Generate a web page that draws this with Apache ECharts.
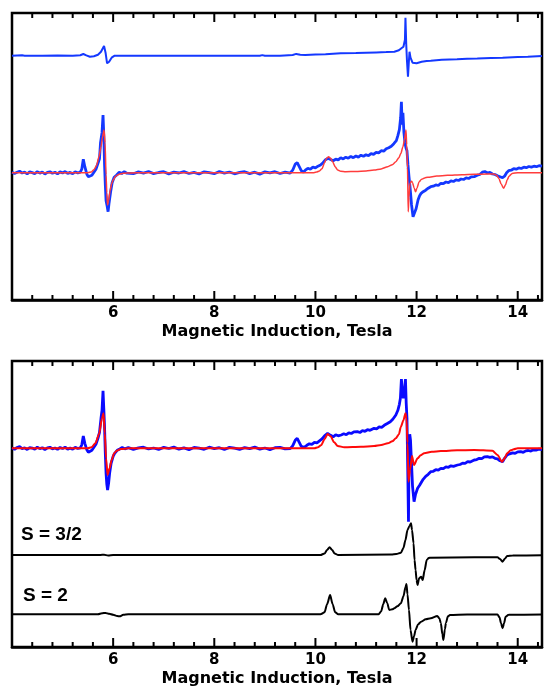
<!DOCTYPE html>
<html>
<head>
<meta charset="utf-8">
<script src="https://cdn.jsdelivr.net/npm/echarts@6/dist/echarts.min.js"></script>
<style>
  html, body { margin: 0; padding: 0; background: #fff; }
  #chart { width: 545px; height: 691px; }
</style>
</head>
<body>
<div id="chart"></div>
<script>
// field in Tesla, intensity in arbitrary units (baseline = 0, up = positive)
const xTicks = [6, 8, 10, 12, 14];
const majorTickValues = [6, 8, 10, 12, 14];
const minorTickValues = [4.4, 4.8, 5.2, 5.6, 6.4, 6.8, 7.2, 7.6, 8.4, 8.8, 9.2, 9.6,
  10.4, 10.8, 11.2, 11.6, 12.4, 12.8, 13.2, 13.6, 14.4];

// top panel, upper blue trace
const topRaw = [
  [4.00, 0], [4.20, 0.4], [4.25, 0], [4.60, 0], [4.90, 0.2], [5.20, 0], [5.35, 0.5], [5.41, 1.7], [5.47, 0.3],
  [5.54, -1], [5.62, -0.5], [5.70, 1], [5.76, 4], [5.82, 9.7], [5.85, 3], [5.88, -7.6], [5.92, -6],
  [5.97, -2], [6.03, 0], [7.00, 0], [8.00, 0], [8.90, 0], [8.95, 0.6], [9.00, 0], [9.30, 0],
  [9.55, 0.7], [9.62, 1.8], [9.70, 1], [9.80, 0.8], [10.00, 1.2], [10.20, 1.5], [10.50, 2.4],
  [10.80, 2.6], [11.00, 3], [11.20, 3.3], [11.40, 3.6], [11.56, 4], [11.65, 5.5], [11.70, 7.5],
  [11.74, 9], [11.77, 16], [11.78, 38], [11.795, 12], [11.81, -5], [11.83, -21], [11.845, -8],
  [11.86, 4], [11.88, -2], [11.92, -7], [11.95, -8.6], [12.00, -7.5], [12.10, -6], [12.20, -5.3],
  [12.28, -5], [12.50, -4], [12.80, -3.6], [13.00, -3], [13.20, -2.8], [13.47, -2.3], [13.70, -2],
  [14.00, -1.2], [14.20, -1], [14.48, -0.3]
];

// top panel, measured spectrum (blue)
const topMeasured = [
  [4.00, 0.5], [4.05, -0.8], [4.10, 0.4], [4.15, 1.5], [4.20, -0.3], [4.25, 0.6], [4.30, -1.1], [4.35, 0.9],
  [4.40, 0.1], [4.45, -0.9], [4.50, 1.0], [4.55, -0.4], [4.60, 0.7], [4.65, -1.3], [4.70, 0.3], [4.75, 0.9],
  [4.80, -0.6], [4.85, 0.4], [4.90, -1.2], [4.95, 0.8], [5.00, -0.2], [5.05, 1.1], [5.10, -0.7], [5.15, 0.3],
  [5.20, -1.0], [5.25, 0.9], [5.30, -0.3], [5.35, 0.6], [5.38, 3.5], [5.41, 13.4], [5.44, 6], [5.48, -1.5],
  [5.51, -4], [5.54, -5.0], [5.58, -2.5], [5.62, 0.5], [5.66, 3.5], [5.70, 9.4], [5.73, 14], [5.75, 29.7],
  [5.78, 40], [5.80, 57.7], [5.815, 38], [5.83, 8], [5.845, -12], [5.86, -28], [5.88, -33], [5.90, -39],
  [5.92, -30], [5.95, -19], [5.98, -10], [6.02, -4.5], [6.07, -2.3], [6.12, 0.4], [6.17, -0.8], [6.22, 1.0],
  [6.27, -0.5], [6.30, 0.6], [6.40, -1.0], [6.50, 0.8], [6.60, -0.4], [6.70, 1.2], [6.80, -0.9], [6.90, 0.2],
  [7.00, 1.0], [7.10, -1.2], [7.20, 0.5], [7.30, -0.3], [7.40, 1.1], [7.50, -0.8], [7.60, 0.4], [7.70, -1.3],
  [7.80, 0.9], [7.90, 0.0], [8.00, -1.0], [8.10, 1.2], [8.20, -0.5], [8.30, 0.7], [8.40, -1.1], [8.50, 0.3],
  [8.60, 1.0], [8.70, -0.9], [8.80, 0.5], [8.90, -1.4], [9.00, 0.8], [9.10, -0.2], [9.20, 1.0], [9.30, -0.8],
  [9.40, 0.6], [9.50, -0.5], [9.55, 2.5], [9.60, 8.5], [9.64, 10], [9.68, 6], [9.72, 2], [9.76, 0.5],
  [9.80, 2.5], [9.85, 4.4], [9.90, 3.5], [9.95, 5.5], [10.00, 4.8], [10.05, 6.5], [10.10, 7.7], [10.15, 10],
  [10.20, 13], [10.25, 14.4], [10.30, 13.2], [10.35, 12], [10.40, 13.5], [10.45, 12.8], [10.50, 15], [10.55, 13.8],
  [10.60, 15.5], [10.65, 14.5], [10.70, 16.3], [10.75, 15], [10.80, 16.7], [10.85, 15.6], [10.90, 17.5], [10.95, 16.4],
  [11.00, 18], [11.05, 17], [11.10, 19], [11.15, 18.3], [11.20, 20.3], [11.25, 19.8], [11.30, 22], [11.35, 21.5],
  [11.40, 24], [11.45, 25], [11.50, 26.5], [11.55, 29], [11.60, 32], [11.63, 37], [11.66, 43], [11.685, 55],
  [11.70, 71], [11.715, 48], [11.73, 60], [11.75, 40], [11.77, 30], [11.79, 25], [11.81, 22], [11.83, 8],
  [11.85, -4], [11.87, -14], [11.90, -32], [11.93, -44], [11.96, -40], [11.99, -36], [12.03, -27], [12.06, -23],
  [12.09, -20.6], [12.13, -19], [12.18, -17.5], [12.23, -15.5], [12.28, -14], [12.33, -13.5], [12.38, -12.2],
  [12.43, -12.8], [12.48, -10.6], [12.53, -11], [12.58, -9.3], [12.63, -10], [12.68, -8.2], [12.73, -8.8],
  [12.78, -7.2], [12.83, -7.8], [12.88, -6.3], [12.93, -6.8], [12.98, -5.2], [13.03, -5.8], [13.08, -4.2],
  [13.14, -4], [13.20, -2.5], [13.25, -1.8], [13.30, 0.5], [13.35, 1.2], [13.40, -0.3], [13.45, 0.4],
  [13.50, -1.3], [13.55, -1.8], [13.60, -3], [13.65, -4], [13.70, -5], [13.74, -3.5], [13.78, 0], [13.82, 2],
  [13.87, 2.5], [13.92, 4], [13.97, 3.5], [14.02, 4.8], [14.07, 4.2], [14.12, 5.5], [14.17, 5], [14.22, 6.2],
  [14.27, 5.6], [14.32, 6.5], [14.37, 6], [14.42, 7], [14.48, 6.5]
];

// top panel, simulation (red)
const topSim = [
  [4.00, 0], [5.50, 0], [5.57, 0.8], [5.62, 3], [5.67, 7], [5.72, 16], [5.76, 26], [5.79, 36], [5.82, 42.7],
  [5.84, 30], [5.86, -2], [5.875, -20], [5.89, -32.3], [5.91, -28], [5.94, -18], [5.97, -11], [6.00, -7.3],
  [6.05, -3.5], [6.12, -1.5], [6.20, -0.6], [6.35, -0.2], [6.60, 0], [9.95, 0], [10.02, 0.6], [10.08, 1.8],
  [10.13, 4], [10.18, 10], [10.22, 14.5], [10.26, 16], [10.30, 14.5], [10.34, 11], [10.39, 6], [10.44, 2.7],
  [10.50, 1.4], [10.60, 1], [10.80, 1.2], [11.00, 1.8], [11.16, 2.7], [11.30, 3.8], [11.43, 6], [11.52, 8],
  [11.59, 11], [11.65, 15], [11.69, 19.4], [11.73, 26], [11.76, 32.7], [11.79, 42.7], [11.805, 28], [11.82, 5],
  [11.835, -39], [11.85, -24], [11.87, -10.6], [11.90, -8.5], [11.92, -10], [11.95, -15], [11.98, -19],
  [12.01, -15], [12.05, -9], [12.10, -6.5], [12.16, -5.2], [12.22, -4.6], [12.40, -3.3], [12.61, -2.6],
  [12.90, -2], [13.14, -1.6], [13.40, -1.3], [13.53, -1.4], [13.58, -2.5], [13.63, -6], [13.67, -11],
  [13.72, -15.6], [13.76, -12], [13.79, -7.3], [13.83, -3.5], [13.89, -0.8], [14.00, 0], [14.48, 0]
];

// bottom panel, measured spectrum (blue)
const bottomMeasured = [
  [4.00, 0.4], [4.05, -1.0], [4.10, 0.8], [4.15, 1.6], [4.20, -0.4], [4.25, 0.5], [4.30, -1.2], [4.35, 0.7],
  [4.40, 0.2], [4.45, -1.0], [4.50, 1.2], [4.55, -0.3], [4.60, 0.6], [4.65, -1.4], [4.70, 0.4], [4.75, 1.0],
  [4.80, -0.5], [4.85, 0.3], [4.90, -1.1], [4.95, 0.9], [5.00, -0.3], [5.05, 1.2], [5.10, -0.8], [5.15, 0.2],
  [5.20, -0.9], [5.25, 1.0], [5.30, -0.2], [5.35, 0.5], [5.38, 3.5], [5.41, 12.3], [5.44, 5], [5.48, -1.5],
  [5.51, -4], [5.54, -5.0], [5.58, -2], [5.62, 1], [5.66, 4], [5.70, 10], [5.73, 16], [5.76, 30], [5.78, 38],
  [5.80, 57.6], [5.815, 40], [5.83, 21.6], [5.845, -5], [5.86, -25], [5.875, -36], [5.89, -41.7], [5.91, -35],
  [5.93, -25], [5.96, -15], [6.00, -8], [6.03, -5], [6.08, -2], [6.13, -0.7], [6.18, 0.8], [6.23, -0.6],
  [6.30, 0.7], [6.40, -1.1], [6.50, 0.5], [6.60, 1.1], [6.70, -0.7], [6.80, 0.3], [6.90, -1.2], [7.00, 0.9],
  [7.10, -0.2], [7.20, 1.2], [7.30, -0.9], [7.40, 0.4], [7.50, -1.3], [7.60, 0.8], [7.70, 0.1], [7.80, -1.0],
  [7.90, 1.1], [8.00, -0.4], [8.10, 0.6], [8.20, -1.2], [8.30, 0.9], [8.40, 0.2], [8.50, -1.0], [8.60, 0.7],
  [8.70, -0.3], [8.80, 1.2], [8.90, -0.8], [9.00, 0.3], [9.10, -1.3], [9.20, 0.6], [9.30, 1.0], [9.40, -0.6],
  [9.50, -0.4], [9.55, 2.5], [9.60, 8], [9.64, 10], [9.68, 6], [9.72, 2], [9.78, 1], [9.83, 3], [9.88, 4.5],
  [9.93, 4], [9.98, 6], [10.03, 5.5], [10.08, 7.5], [10.13, 9.5], [10.18, 12.5], [10.24, 15], [10.30, 13],
  [10.35, 11.5], [10.40, 13.5], [10.45, 12.5], [10.51, 13.3], [10.56, 14.5], [10.61, 13.6], [10.66, 15.5],
  [10.71, 14.8], [10.76, 16.5], [10.83, 16.6], [10.88, 15.8], [10.93, 17.6], [10.98, 17], [11.03, 18.6],
  [11.08, 18], [11.16, 20], [11.21, 19.5], [11.26, 21.5], [11.31, 21], [11.36, 23], [11.43, 25], [11.48, 26.5],
  [11.53, 29], [11.59, 33.3], [11.63, 38], [11.66, 44], [11.68, 50], [11.70, 69.3], [11.72, 55], [11.74, 50],
  [11.76, 58], [11.78, 69.3], [11.795, 45], [11.81, 30], [11.825, -20], [11.84, -73.4], [11.85, -10],
  [11.865, 14], [11.88, 8], [11.90, -15], [11.92, -38], [11.95, -53.4], [11.98, -46], [12.02, -40],
  [12.06, -37], [12.09, -35], [12.13, -31], [12.18, -28], [12.23, -26], [12.28, -23.4], [12.33, -23],
  [12.38, -21.4], [12.43, -21.8], [12.48, -20], [12.53, -20.4], [12.58, -18.6], [12.63, -19], [12.68, -17.5],
  [12.73, -18], [12.81, -16.7], [12.86, -16.2], [12.91, -14.8], [12.96, -15], [13.01, -13.3], [13.06, -13.7],
  [13.14, -11.7], [13.19, -11.3], [13.24, -10], [13.29, -10.3], [13.34, -8.6], [13.40, -8.4], [13.45, -9],
  [13.50, -8.6], [13.55, -10], [13.60, -10.6], [13.65, -12.5], [13.70, -13.4], [13.74, -10], [13.79, -6.7],
  [13.84, -5.5], [13.90, -4.5], [13.95, -5], [14.00, -3.6], [14.06, -3.4], [14.11, -4], [14.16, -2.6],
  [14.21, -2.2], [14.26, -2.8], [14.31, -1.5], [14.36, -1.9], [14.42, -0.9], [14.48, -1.3]
];

// bottom panel, simulation (red)
const bottomSim = [
  [4.00, 0], [5.50, 0], [5.57, 1], [5.65, 5], [5.72, 14], [5.78, 30], [5.81, 35], [5.835, 15], [5.86, -10],
  [5.89, -26.7], [5.93, -20], [5.97, -11.7], [6.02, -5], [6.07, -2.4], [6.15, -0.7], [6.30, 0], [9.98, 0],
  [10.05, 1], [10.11, 3], [10.18, 9], [10.24, 14.3], [10.30, 12], [10.37, 6], [10.44, 2.3], [10.57, 1],
  [10.90, 1.5], [11.16, 2.3], [11.30, 3.3], [11.43, 5], [11.52, 7], [11.59, 10], [11.65, 14], [11.69, 21.6],
  [11.74, 28], [11.78, 35], [11.80, 30], [11.82, 5.3], [11.84, -33.4], [11.87, -21.7], [11.91, -7.7],
  [11.95, -16.7], [12.02, -10], [12.08, -7], [12.15, -5], [12.30, -3.5], [12.48, -2.7], [12.80, -2],
  [13.14, -1.7], [13.50, -2.4], [13.60, -6.7], [13.69, -13.4], [13.74, -10], [13.79, -5], [13.86, -2],
  [13.92, -1], [14.00, 0], [14.48, 0]
];

// simulated S = 3/2 spectrum (black)
const spinThreeHalves = [
  [4.00, 0], [5.75, 0], [5.82, 0.3], [5.90, -0.5], [6.00, 0], [10.10, 0], [10.18, 1.5], [10.23, 5],
  [10.28, 7.7], [10.33, 5], [10.38, 1.5], [10.45, 0], [11.50, 0.5], [11.60, 1], [11.69, 2.3], [11.74, 7],
  [11.78, 15], [11.82, 25], [11.86, 29], [11.89, 31.7], [11.91, 25], [11.94, 11.7], [11.96, -5], [11.98, -15],
  [12.00, -25], [12.02, -30], [12.05, -23.3], [12.09, -21.7], [12.12, -25], [12.16, -15], [12.20, -5],
  [12.24, -3], [12.28, -2.7], [13.14, -2.3], [13.60, -2.3], [13.65, -4], [13.70, -6.7], [13.75, -3.5],
  [13.79, -1], [13.90, -0.5], [14.48, -0.3]
];

// simulated S = 2 spectrum (black)
const spinTwo = [
  [4.00, 0], [5.70, 0], [5.78, 1], [5.85, 1.4], [5.92, 0.5], [6.00, -0.5], [6.08, -1.8], [6.13, -2],
  [6.20, -0.5], [6.30, 0], [10.10, 0], [10.18, 2], [10.23, 10], [10.29, 19.3], [10.34, 10], [10.39, 2],
  [10.45, 0], [11.25, 0], [11.30, 3], [11.34, 10], [11.38, 16], [11.42, 11], [11.46, 4.3], [11.52, 5],
  [11.56, 6], [11.62, 8], [11.69, 11], [11.74, 18], [11.78, 27], [11.80, 30.3], [11.82, 20], [11.85, 4.3],
  [11.88, -15.7], [11.92, -27.4], [11.95, -22], [11.98, -15.7], [12.03, -10], [12.09, -7.4], [12.18, -5],
  [12.28, -4], [12.41, -1.7], [12.45, -4], [12.48, -8.7], [12.51, -20], [12.53, -25.7], [12.56, -15],
  [12.58, -8.7], [12.62, -2], [12.66, -0.7], [13.00, -0.3], [13.60, -0.3], [13.64, -3], [13.67, -9],
  [13.70, -14], [13.73, -9], [13.76, -2.5], [13.82, -0.5], [14.48, -0.3]
];

const labelFont = 'DejaVu Sans';
const xMin = 4, xMax = 14.48;
const majorLen = 9, minorLen = 5;

// vertical stacking of the traces inside each panel
function shift(data, offset) {
  return data.map(p => [p[0], p[1] + offset]);
}

function xAxisFor(gridIndex) {
  return {
    type: 'value', gridIndex: gridIndex, position: 'bottom',
    min: xMin, max: xMax, interval: 2,
    axisLine: { show: true, onZero: false, lineStyle: { color: '#000', width: 2.5 } },
    axisTick: { show: false },
    minorTick: { show: false },
    splitLine: { show: false },
    axisLabel: {
      show: true, showMinLabel: false, margin: 6,
      color: '#000', fontSize: 15, fontWeight: 'bold', fontFamily: labelFont,
      formatter: v => xTicks.indexOf(v) >= 0 ? String(v) : ''
    },
    name: 'Magnetic Induction, Tesla',
    nameLocation: 'middle',
    nameGap: 24,
    nameTextStyle: { color: '#000', fontSize: 16, fontWeight: 'bold', fontFamily: labelFont }
  };
}

function yAxisFor(gridIndex, max) {
  return {
    type: 'value', gridIndex: gridIndex, min: 0, max: max,
    axisLine: { show: false }, axisTick: { show: false },
    axisLabel: { show: false }, splitLine: { show: false }
  };
}

function line(data, xi, yi, color, width, smooth) {
  return {
    type: 'line', xAxisIndex: xi, yAxisIndex: yi, data: data,
    showSymbol: false, symbol: 'none', smooth: smooth ? 0.25 : false,
    smoothMonotone: 'x',
    lineStyle: { color: color, width: width },
    silent: true
  };
}

// inward ticks on the top and bottom edges, placed through the x scale
function tickSeries(gi) {
  const data = majorTickValues.map(v => [v, majorLen]).concat(minorTickValues.map(v => [v, minorLen]));
  return {
    type: 'custom', xAxisIndex: gi, yAxisIndex: gi, data: data, silent: true, clip: false, z: 5,
    renderItem: function (params, api) {
      const x = api.coord([api.value(0), 0])[0];
      const cs = params.coordSys;
      const len = api.value(1);
      const st = { stroke: '#000', lineWidth: 2 };
      return {
        type: 'group',
        children: [
          { type: 'line', shape: { x1: x, y1: cs.y + cs.height, x2: x, y2: cs.y + cs.height - len }, style: st },
          { type: 'line', shape: { x1: x, y1: cs.y, x2: x, y2: cs.y + len }, style: st }
        ]
      };
    }
  };
}

const chart = echarts.init(document.getElementById('chart'));

const option = {
  animation: false,
  backgroundColor: '#fff',
  grid: [
    { left: 12, right: 1, top: 13, height: 287, show: true, borderColor: '#000', borderWidth: 2.5, backgroundColor: 'transparent' },
    { left: 12, right: 1, top: 361, height: 286, show: true, borderColor: '#000', borderWidth: 2.5, backgroundColor: 'transparent' }
  ],
  xAxis: [xAxisFor(0), xAxisFor(1)],
  yAxis: [yAxisFor(0, 287), yAxisFor(1, 286)],
  series: [
    line(shift(topRaw, 244.3), 0, 0, '#1438ff', 2, false),
    line(shift(topMeasured, 127.3), 0, 0, '#1438ff', 2.8, false),
    line(shift(topSim, 127.3), 0, 0, '#ff3c3c', 1.5, true),
    line(shift(bottomMeasured, 198.7), 1, 1, '#0a0aff', 2.8, false),
    line(shift(bottomSim, 198.7), 1, 1, '#ff0a0a', 2, true),
    line(shift(spinThreeHalves, 92), 1, 1, '#000', 2, true),
    line(shift(spinTwo, 32.7), 1, 1, '#000', 2, true),
    tickSeries(0),
    tickSeries(1)
  ],
  graphic: [
    { type: 'text', left: 21, top: 525, style: { text: 'S = 3/2', fill: '#000', font: 'bold 19px "Liberation Sans", Arial, sans-serif' } },
    { type: 'text', left: 23, top: 586, style: { text: 'S = 2', fill: '#000', font: 'bold 19px "Liberation Sans", Arial, sans-serif' } }
  ]
};

chart.setOption(option);
</script>
</body>
</html>
